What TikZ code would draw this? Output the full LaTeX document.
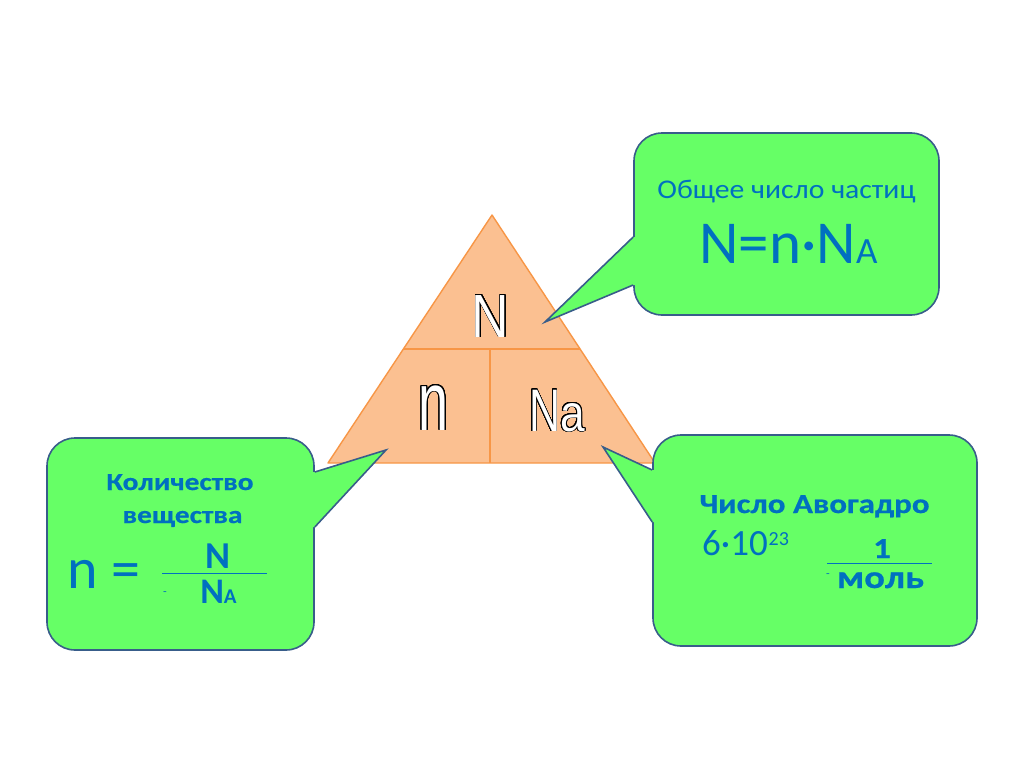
\documentclass[tikz,border=0pt]{standalone}
\usepackage{fontspec}
\setmainfont{Carlito}
\newfontfamily\widefont[FakeStretch=1.1]{Carlito}
\newfontfamily\widebold[FakeStretch=1.2, FakeBold=0.6]{Carlito Bold}
\newfontfamily\trifont[FakeStretch=0.85]{Liberation Sans}
\newfontfamily\trifontn[FakeStretch=0.65]{Liberation Sans}
\newfontfamily\trifontna[FakeStretch=0.72]{Liberation Sans}
\usepackage[copies]{contour}
\contourlength{0.7pt}
\contournumber{32}
\usepackage{tikz}
\usetikzlibrary{calc,positioning}
\definecolor{calloutgreen}{RGB}{102,255,102}
\definecolor{calloutedge}{RGB}{56,93,138}
\definecolor{textblue}{RGB}{0,112,192}
\definecolor{peach}{RGB}{251,192,145}
\definecolor{triorange}{RGB}{247,150,70}
\tikzstyle{tri} = [draw=triorange, fill=peach, line width=1.4pt, line join=round]
\tikzstyle{triline} = [draw=triorange, line width=1.2pt]
\tikzstyle{letter} = [text=white, inner sep=0pt, anchor=base]
\tikzstyle{bubble} = [rectangle, draw=calloutedge, line width=1.6pt,
    fill=calloutgreen, rounded corners=28pt]
\tikzstyle{pointer} = [draw=calloutedge, line width=1.6pt, line join=miter]
\tikzstyle{bluetext} = [text=textblue, inner sep=0pt, anchor=base]
\tikzstyle{fracline} = [draw=textblue, line width=0.8pt]

\begin{document}
\begin{tikzpicture}[x=1pt, y=-1pt]
    \useasboundingbox (0,0) rectangle (1024,768);
    % Triangle
    \coordinate (apex) at (492,215);
    \coordinate (bl) at (328,463);
    \coordinate (br) at (655,463);
    \coordinate (ml) at ($(apex)!0.54!(bl)$);
    \coordinate (mr) at ($(apex)!0.54!(br)$);
    \coordinate (mid) at (490,349);
    \path [tri] (apex) -- (bl) -- (br) -- cycle;
    \draw [triline] (ml) -- (mr);
    \draw [triline] (mid) -- (mid |- bl);
    \node [letter] (bigN) at (490.5,337) {\fontsize{61}{61}\trifont\contour{black}{N}};
    \node [letter] (smalln) at (433.5,430) {\fontsize{83}{83}\trifontn\contour{black}{n}};
    \node [letter] (Na) at (557,431) {\fontsize{60}{60}\trifontna\contour{black}{N}\fontsize{52}{52}\trifont\contour{black}{a}};
    % Place nodes
    \node [bubble, minimum width=305pt, minimum height=182pt] (total) at (786.5,224) {};
    \node [bubble, minimum width=267pt, minimum height=212pt] (amount) at (180.5,544) {};
    \node [bubble, minimum width=324pt, minimum height=211pt] (avogadro) at (815,540.5) {};
    % Pointers
    \coordinate (totaltip) at (545,322);
    \coordinate (totala) at ($(total.west)+(0,13)$);
    \coordinate (totalb) at ($(total.west)+(0,61)$);
    \fill [calloutgreen] ($(totala)+(4,0)$) -- (totala) -- (totaltip) -- (totalb) -- ($(totalb)+(4,0)$) -- cycle;
    \draw [pointer] (totala) -- (totaltip) -- (totalb);
    \coordinate (amounttip) at (386,450);
    \coordinate (amounta) at ($(amount.east)+(0,-72)$);
    \coordinate (amountb) at ($(amount.east)+(0,-17)$);
    \fill [calloutgreen] ($(amounta)+(-4,0)$) -- (amounta) -- (amounttip) -- (amountb) -- ($(amountb)+(-4,0)$) -- cycle;
    \draw [pointer] (amounta) -- (amounttip) -- (amountb);
    \coordinate (avogadrotip) at (603,447);
    \coordinate (avogadroa) at ($(avogadro.west)+(0,-70.5)$);
    \coordinate (avogadrob) at ($(avogadro.west)+(0,-18.5)$);
    \fill [calloutgreen] ($(avogadroa)+(4,0)$) -- (avogadroa) -- (avogadrotip) -- (avogadrob) -- ($(avogadrob)+(4,0)$) -- cycle;
    \draw [pointer] (avogadroa) -- (avogadrotip) -- (avogadrob);
    % Texts
    \node [bluetext, font=\widefont\fontsize{27}{27}\selectfont] (totaltitle) at (786.5,198) {Общее число частиц};
    \node [bluetext, font=\fontsize{61}{61}\selectfont] (totalformula) at (788.5,263) {N=n·N{\fontsize{37}{37}\selectfont A}};
    \node [bluetext, font=\widebold\fontsize{24.5}{24.5}\selectfont] (amounttitle) at (180,490) {Количество};
    \node [bluetext, font=\widebold\fontsize{24.5}{24.5}\selectfont] (amounttitleb) at (182.5,523) {вещества};
    \node [bluetext, font=\fontsize{58}{58}\selectfont] (neq) at (104,588) {n =};
    \node [bluetext, font=\bfseries\fontsize{38}{38}\selectfont] (numN) at (218.5,568) {N};
    \node [bluetext, font=\bfseries\fontsize{36}{36}\selectfont] (denNA) at (218.5,603) {N{\fontsize{21}{21}\selectfont A}};
    \node [bluetext, font=\fontsize{12}{12}\selectfont] (dashl) at (165,595) {-};
    \coordinate (fracla) at (162,573);
    \coordinate (fraclb) at (267,573);
    \draw [fracline] (fracla) -- (fraclb);
    \node [bluetext, font=\widebold\fontsize{27.5}{27.5}\selectfont] (avogadrotitle) at (814.5,513) {Число Авогадро};
    \node [bluetext, font=\fontsize{37}{37}\selectfont, anchor=base west] (avogadronum) at (702,555) {6·10};
    \node [bluetext, font=\fontsize{20}{20}\selectfont, anchor=base west] (exponent) at ($(avogadronum.base east)+(0.5,-10)$) {23};
    \node [bluetext, font=\widebold\fontsize{29}{29}\selectfont] (one) at (882,558) {1};
    \node [bluetext, font=\widebold\fontsize{32}{32}\selectfont] (mol) at (880.5,588) {моль};
    \node [bluetext, font=\fontsize{12}{12}\selectfont] (dashr) at (828,577) {-};
    \coordinate (fracra) at (827,563);
    \coordinate (fracrb) at (932,563);
    \draw [fracline] (fracra) -- (fracrb);
\end{tikzpicture}
\end{document}
